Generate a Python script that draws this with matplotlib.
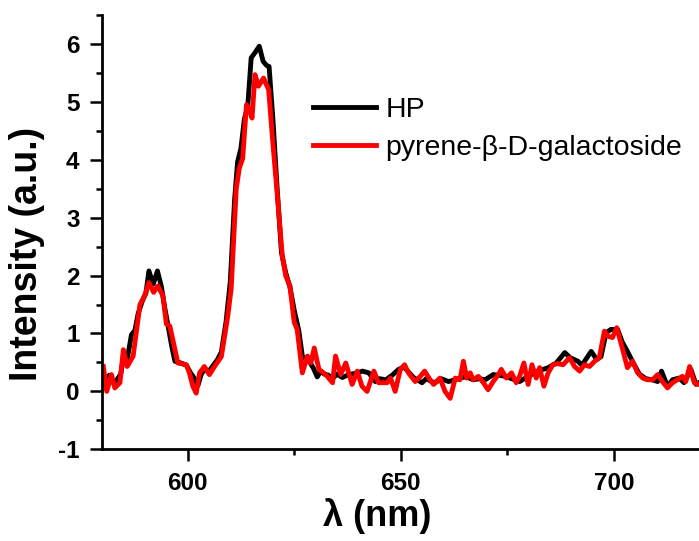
import matplotlib
matplotlib.use("Agg")
import matplotlib.pyplot as plt
from matplotlib.ticker import MultipleLocator

plt.rcParams['font.family'] = ['Liberation Sans', 'DejaVu Sans']
plt.rcParams['axes.unicode_minus'] = False

# HP spectrum (black)
hp_wl = [580.0, 580.8, 581.6, 582.5, 583.4, 584.3, 585.0, 585.8, 586.8, 587.6,
         588.4, 589.3, 590.2, 590.9, 591.9, 592.9, 593.8, 594.6, 595.4, 596.2,
         597.0, 598.0, 598.8, 599.7, 600.6, 601.6, 602.4, 603.2, 604.0, 605.0,
         606.0, 607.0, 607.9, 609.0, 610.0, 611.0, 611.7, 612.5, 613.3, 614.1,
         614.9, 615.8, 616.8, 617.7, 618.5, 619.1, 620.0, 621.0, 622.0, 623.0,
         624.0, 625.0, 626.1, 626.9, 627.8, 628.7, 629.5, 630.4, 631.2, 632.0,
         633.0, 634.0, 635.0, 636.3, 637.5, 638.5, 640.0, 641.0, 642.5, 644.0,
         645.0, 646.5, 648.0, 649.5, 650.8, 652.0, 653.0, 655.0, 656.0, 657.2,
         658.1, 659.5, 661.2, 662.8, 664.3, 665.5, 667.0, 668.5, 669.8, 671.7,
         673.0, 674.5, 676.0, 677.9, 679.9, 682.2, 684.6, 686.5, 688.5, 689.8,
         691.6, 692.5, 694.7, 696.0, 697.0, 698.2, 699.3, 700.9, 702.0, 703.2,
         704.8, 706.0, 707.5, 709.0, 710.3, 711.2, 712.6, 713.8, 715.3, 716.5,
         718.1, 719.3, 720.0]
hp_int = [0.38, 0.10, 0.28, 0.15, 0.20, 0.30, 0.62, 0.55, 0.98, 1.05,
          1.35, 1.55, 1.70, 2.08, 1.85, 2.08, 1.82, 1.45, 1.13, 0.80,
          0.52, 0.50, 0.48, 0.45, 0.33, 0.22, 0.10, 0.30, 0.38, 0.35,
          0.45, 0.55, 0.68, 1.20, 1.90, 3.30, 3.96, 4.20, 4.70, 4.93,
          5.76, 5.85, 5.96, 5.70, 5.63, 5.61, 4.70, 3.50, 2.40, 2.05,
          1.80, 1.40, 1.04, 0.61, 0.55, 0.50, 0.40, 0.25, 0.35, 0.30,
          0.28, 0.22, 0.30, 0.24, 0.28, 0.30, 0.32, 0.35, 0.32, 0.17,
          0.22, 0.20, 0.28, 0.38, 0.42, 0.32, 0.24, 0.15, 0.22, 0.17,
          0.15, 0.22, 0.17, 0.20, 0.24, 0.25, 0.20, 0.22, 0.20, 0.29,
          0.28, 0.26, 0.22, 0.17, 0.26, 0.35, 0.41, 0.49, 0.67, 0.58,
          0.52, 0.45, 0.69, 0.55, 0.60, 1.01, 1.07, 1.07, 0.85, 0.69,
          0.46, 0.30, 0.22, 0.20, 0.17, 0.35, 0.09, 0.20, 0.23, 0.15,
          0.38, 0.12, 0.15]

# pyrene-beta-D-galactoside spectrum (red)
pg_wl = [580.2, 581.0, 582.1, 582.9, 584.1, 584.9, 585.8, 587.2, 588.8, 589.9,
         590.9, 592.0, 593.0, 594.2, 595.0, 595.8, 597.7, 599.7, 600.4, 601.2,
         602.0, 602.8, 603.9, 605.1, 606.3, 607.9, 609.4, 610.2, 611.4, 612.1,
         612.9, 613.8, 614.5, 615.1, 615.8, 616.6, 617.8, 619.0, 619.9, 621.1,
         622.2, 623.0, 624.0, 625.0, 625.7, 626.9, 628.1, 628.9, 629.7, 630.8,
         632.4, 634.0, 634.7, 635.9, 637.1, 638.6, 639.8, 640.9, 642.1, 643.7,
         644.8, 646.8, 647.6, 648.7, 649.9, 650.9, 651.8, 653.4, 654.6, 655.6,
         656.9, 657.7, 659.2, 660.4, 661.6, 662.8, 663.9, 664.7, 665.5, 666.3,
         667.0, 668.2, 669.4, 670.5, 671.7, 672.9, 673.6, 674.8, 676.0, 677.1,
         677.9, 678.9, 679.9, 680.8, 681.8, 682.6, 683.6, 684.6, 685.7, 686.8,
         688.1, 689.6, 690.8, 692.0, 693.1, 694.3, 695.5, 696.6, 697.8, 698.7,
         699.7, 700.7, 702.1, 703.2, 704.4, 705.6, 706.8, 707.9, 709.1, 710.3,
         711.4, 712.6, 713.8, 714.9, 716.1, 716.9, 717.8, 718.9, 720.0]
pg_int = [0.43, 0.00, 0.29, 0.06, 0.15, 0.72, 0.43, 0.61, 1.50, 1.65,
          1.88, 1.71, 1.82, 1.65, 1.16, 1.13, 0.49, 0.46, 0.32, 0.09,
          -0.03, 0.32, 0.43, 0.29, 0.43, 0.60, 1.30, 1.77, 3.50, 3.85,
          4.02, 4.95, 4.86, 4.72, 5.47, 5.27, 5.41, 5.21, 4.37, 3.33,
          2.34, 2.00, 1.82, 1.19, 1.07, 0.32, 0.61, 0.49, 0.75, 0.38,
          0.29, 0.15, 0.61, 0.29, 0.49, 0.12, 0.35, 0.09, 0.00, 0.35,
          0.15, 0.15, 0.23, 0.00, 0.38, 0.46, 0.32, 0.17, 0.26, 0.35,
          0.20, 0.12, 0.23, 0.00, -0.12, 0.23, 0.20, 0.52, 0.23, 0.32,
          0.20, 0.26, 0.15, 0.03, 0.17, 0.29, 0.38, 0.23, 0.32, 0.15,
          0.26, 0.49, 0.12, 0.46, 0.23, 0.41, 0.09, 0.32, 0.46, 0.48,
          0.46, 0.58, 0.43, 0.35, 0.46, 0.43, 0.52, 0.58, 1.04, 0.95,
          0.93, 1.10, 0.72, 0.41, 0.52, 0.32, 0.23, 0.20, 0.20, 0.29,
          0.17, 0.06, 0.15, 0.20, 0.26, 0.17, 0.43, 0.15, 0.12]

x_ticks = [600, 650, 700]
y_ticks = [-1, 0, 1, 2, 3, 4, 5, 6]

fig = plt.figure(figsize=(6.99, 5.41), dpi=100)
ax = fig.add_axes([0.1466, 0.1695, 0.8534, 0.8028])

ax.plot(hp_wl, hp_int, color='black', lw=3.5, label='HP', solid_joinstyle='round')
ax.plot(pg_wl, pg_int, color='#ff0000', lw=3.5, label='pyrene-β-D-galactoside',
        solid_joinstyle='round')

ax.set_xlim(580, 720)
ax.set_ylim(-1, 6.5)
ax.set_xticks(x_ticks)
ax.set_yticks(y_ticks)
ax.xaxis.set_minor_locator(MultipleLocator(25))
ax.yaxis.set_minor_locator(MultipleLocator(0.5))

for side in ['top', 'right']:
    ax.spines[side].set_visible(False)
for side in ['left', 'bottom']:
    ax.spines[side].set_linewidth(2)

ax.tick_params(which='major', direction='out', length=8.5, width=1.8,
               labelsize=17.5, pad=8)
ax.tick_params(which='minor', direction='out', length=4.3, width=1.8)
for lab in ax.get_xticklabels() + ax.get_yticklabels():
    lab.set_fontweight('bold')

ax.set_xlabel('λ (nm)', fontsize=26, fontweight='bold')
ax.xaxis.set_label_coords(0.46, -0.112)
ax.set_ylabel('Intensity (a.u.)', fontsize=27, fontweight='bold')
ax.yaxis.set_label_coords(-0.097, 0.45)

ax.legend(loc='upper left', bbox_to_anchor=(0.353, 0.812), frameon=False,
          fontsize=20.5, handlelength=2.2, handletextpad=0.35, labelspacing=0.42,
          borderpad=0, borderaxespad=0)

fig.savefig('out.png', dpi=100)
